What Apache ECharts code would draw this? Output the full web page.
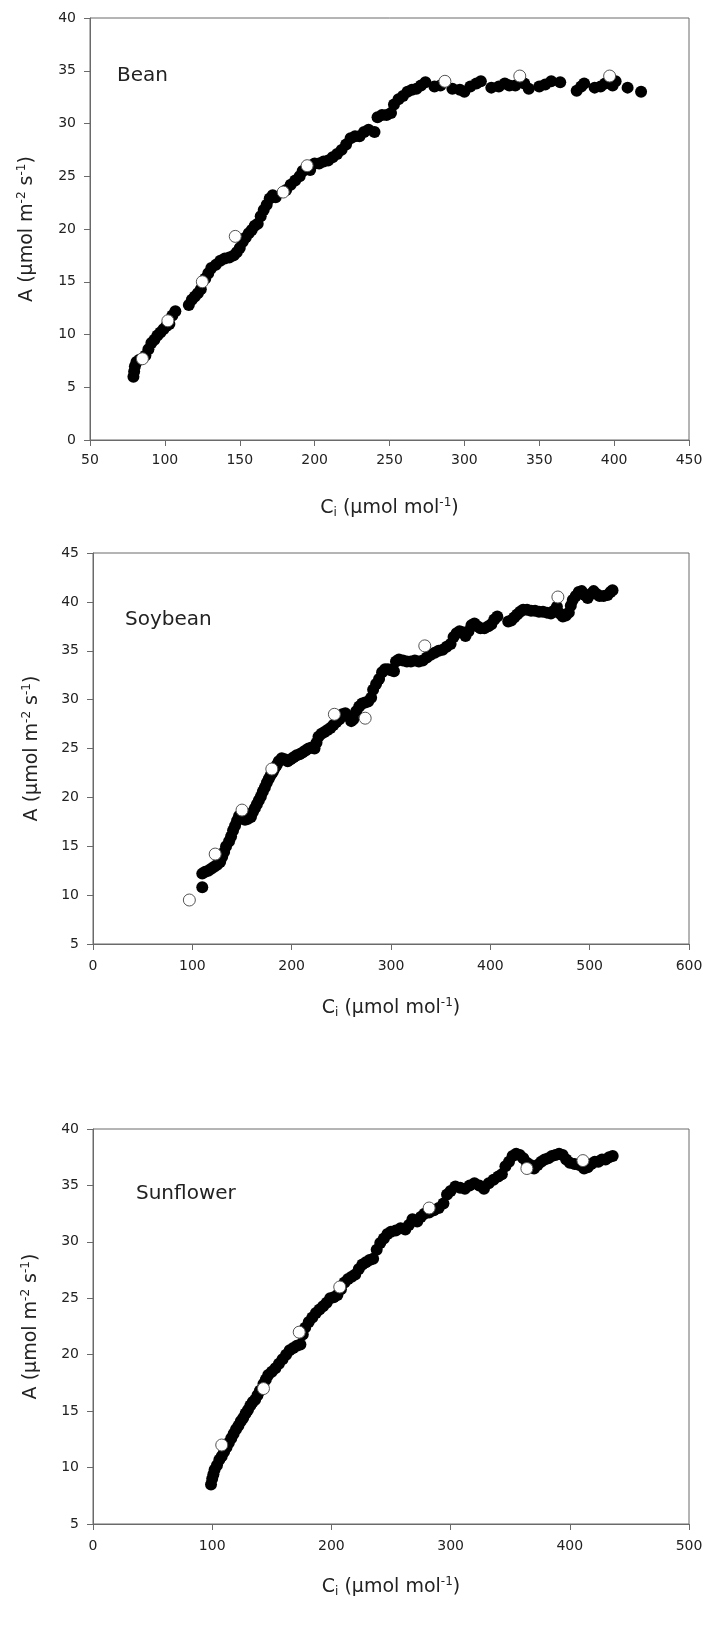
<!DOCTYPE html>
<html>
<head>
<meta charset="utf-8">
<script src="https://cdn.jsdelivr.net/npm/echarts@6/dist/echarts.min.js"></script>
<style>
  html, body { margin: 0; padding: 0; background: #fff; }
  #chart { width: 706px; height: 1635px; }
</style>
</head>
<body>
<div id="chart"></div>
<script>
// Bean: Ci vs A, filled = continuous record, open = steady-state points
var beanFilled = [
  [79,6.0],[79.5,6.5],[80,7.0],[81,7.4],[83,7.6],[87,8.0],[89,8.6],[91,9.2],[93,9.5],[95,9.9],
  [97,10.2],[99,10.5],[101,10.8],[103,11.0],[105,11.8],[107,12.2],[116,12.8],[118,13.3],[120,13.6],[122,13.9],
  [124,14.3],[127,15.3],[129,15.8],[131,16.3],[134,16.6],[137,17.0],[140,17.2],[143,17.3],[146,17.5],[148,17.8],
  [150,18.2],[152,18.8],[154,19.2],[156,19.6],[158,19.9],[160,20.3],[162,20.5],[164,21.2],[166,21.8],[168,22.3],
  [170,22.9],[172,23.2],[174,23.0],[181,23.7],[184,24.2],[187,24.6],[190,25.0],[192,25.5],[197,25.6],[200,26.2],
  [203,26.2],[206,26.4],[209,26.5],[212,26.8],[215,27.1],[218,27.5],[221,28.0],[224,28.6],[227,28.8],[230,28.8],
  [233,29.2],[236,29.4],[240,29.2],[242,30.6],[245,30.8],[248,30.8],[251,31.0],[253,31.8],[256,32.3],[259,32.6],
  [262,33.0],[265,33.2],[268,33.3],[271,33.6],[274,33.9],[280,33.5],[284,33.6],[292,33.3],[297,33.2],[300,33.0],
  [304,33.5],[308,33.8],[311,34.0],[318,33.4],[323,33.5],[327,33.8],[330,33.6],[334,33.6],[340,33.8],[343,33.3],
  [350,33.5],[354,33.7],[358,34.0],[364,33.9],[375,33.1],[378,33.5],[380,33.8],[387,33.4],[391,33.5],[394,33.8],
  [399,33.6],[401,34.0],[409,33.4],[418,33.0]
];
var beanOpen = [[85,7.7],[102,11.3],[125,15.0],[147,19.3],[179,23.5],[195,26.0],[287,34.0],[337,34.5],[397,34.5]];

var soyFilled = [
  [110,10.8],[110,12.2],[113,12.4],[116,12.5],[119,12.7],[122,12.9],[125,13.1],[128,13.4],[130,13.9],[132,14.4],
  [134,15.0],[137,15.5],[139,16.0],[141,16.6],[143,17.1],[145,17.6],[147,18.1],[150,18.0],[153,17.7],[156,17.8],
  [159,18.0],[161,18.5],[163,18.9],[165,19.3],[167,19.7],[169,20.1],[171,20.6],[173,21.0],[175,21.5],[177,21.9],
  [179,22.3],[181,22.6],[183,23.0],[185,23.3],[187,23.7],[190,24.0],[193,23.9],[196,23.7],[199,23.9],[202,24.1],
  [205,24.3],[208,24.4],[211,24.6],[214,24.8],[217,25.0],[220,25.1],[223,25.0],[225,25.6],[227,26.2],[230,26.5],
  [233,26.7],[236,26.9],[239,27.1],[242,27.4],[245,27.7],[248,28.0],[251,28.5],[254,28.6],[257,28.3],[260,27.8],
  [262,28.0],[265,28.8],[268,29.3],[271,29.6],[274,29.7],[277,29.8],[280,30.2],[282,31.0],[285,31.6],[288,32.1],
  [291,32.8],[294,33.1],[297,33.1],[300,33.0],[303,32.9],[305,33.9],[308,34.1],[312,34.0],[316,33.9],[320,33.9],
  [324,34.0],[328,33.9],[332,34.0],[336,34.3],[340,34.6],[344,34.8],[348,35.0],[352,35.1],[356,35.4],[360,35.7],
  [363,36.4],[366,36.8],[369,37.0],[372,36.9],[375,36.5],[378,37.0],[381,37.6],[384,37.8],[387,37.5],[390,37.3],
  [394,37.3],[398,37.5],[401,37.7],[404,38.2],[407,38.5],[418,38.0],[421,38.1],[424,38.4],[427,38.7],[430,39.0],
  [433,39.2],[437,39.2],[441,39.1],[445,39.1],[449,39.0],[453,39.0],[457,38.9],[461,38.8],[464,39.1],[467,39.5],
  [470,38.8],[473,38.5],[476,38.6],[479,38.9],[481,39.6],[483,40.2],[486,40.6],[489,41.0],[492,41.1],[495,40.7],
  [498,40.4],[501,40.8],[504,41.1],[507,40.8],[510,40.6],[514,40.6],[518,40.7],[521,41.0],[523,41.2]
];
var soyOpen = [[97,9.5],[123,14.2],[150,18.7],[180,22.9],[243,28.5],[274,28.1],[334,35.5],[468,40.5]];

var sunFilled = [
  [99,8.5],[100,9.0],[101,9.4],[102,9.8],[104,10.2],[106,10.7],[108,11.0],[110,11.4],[112,11.8],[114,12.2],
  [116,12.6],[118,13.0],[120,13.4],[122,13.7],[124,14.1],[126,14.4],[128,14.8],[130,15.1],[132,15.5],[134,15.8],
  [136,16.0],[138,16.4],[140,16.8],[143,17.4],[145,17.8],[147,18.2],[150,18.5],[153,18.8],[156,19.2],[159,19.6],
  [162,20.0],[165,20.4],[168,20.6],[171,20.8],[174,20.9],[176,21.8],[178,22.4],[181,22.9],[184,23.3],[187,23.7],
  [190,24.0],[193,24.3],[196,24.6],[199,25.0],[202,25.1],[205,25.3],[208,25.8],[211,26.4],[214,26.7],[217,26.9],
  [220,27.1],[223,27.6],[226,28.0],[229,28.2],[232,28.4],[235,28.5],[238,29.3],[241,29.9],[244,30.3],[247,30.7],
  [250,30.9],[254,31.0],[258,31.2],[262,31.1],[265,31.5],[268,32.0],[272,31.8],[275,32.2],[278,32.5],[282,32.6],
  [286,32.8],[290,33.0],[294,33.4],[297,34.2],[300,34.5],[304,34.9],[308,34.8],[312,34.7],[316,35.0],[320,35.2],
  [324,35.0],[328,34.7],[332,35.2],[336,35.5],[340,35.8],[343,36.0],[346,36.7],[349,37.1],[352,37.6],[355,37.8],
  [358,37.7],[361,37.4],[364,37.0],[367,36.8],[370,36.5],[373,36.8],[376,37.1],[379,37.3],[382,37.4],[385,37.6],
  [388,37.7],[391,37.8],[394,37.7],[397,37.3],[400,37.0],[404,36.9],[408,36.8],[412,36.5],[415,36.6],[418,36.9],
  [421,37.1],[424,37.1],[427,37.3],[430,37.3],[433,37.5],[436,37.6]
];
var sunOpen = [[108,12.0],[143,17.0],[173,22.0],[207,26.0],[282,33.0],[364,36.5],[411,37.2]];

var panelNames = ['Bean', 'Soybean', 'Sunflower'];

var fam = 'DejaVu Sans';
var txt = '#222';
var axCol = '#6a6a6a';

var titleRich = {
  n: { fontSize: 19, fontFamily: fam, color: txt },
  sup: { fontSize: 12, fontFamily: fam, color: txt, padding: [0, 0, 10, 0] },
  sub: { fontSize: 12, fontFamily: fam, color: txt, padding: [10, 0, 0, 0] }
};
var xTitle = '{n|C}{sub|i}{n| (µmol mol}{sup|-1}{n|)}';
var yTitle = '{n|A (µmol m}{sup|-2}{n| s}{sup|-1}{n|)}';

function xAxisCfg(i, min, max, step, labelMargin, gap) {
  return {
    type: 'value', gridIndex: i, min: min, max: max, interval: step,
    name: xTitle, nameLocation: 'middle', nameGap: gap,
    nameTextStyle: { rich: titleRich },
    axisLine: { show: true, lineStyle: { color: axCol } },
    axisTick: { show: true, length: 6, lineStyle: { color: axCol } },
    axisLabel: { margin: labelMargin, fontSize: 14, fontFamily: fam, color: txt, showMinLabel: true, showMaxLabel: true },
    splitLine: { show: false }
  };
}
function yAxisCfg(i, min, max, step, gap) {
  return {
    type: 'value', gridIndex: i, min: min, max: max, interval: step,
    name: yTitle, nameLocation: 'middle', nameGap: gap, nameRotate: 90,
    nameTextStyle: { rich: titleRich },
    axisLine: { show: true, lineStyle: { color: axCol } },
    axisTick: { show: true, length: 6, lineStyle: { color: axCol } },
    axisLabel: { margin: 14, fontSize: 14, fontFamily: fam, color: txt, showMinLabel: true, showMaxLabel: true },
    splitLine: { show: false }
  };
}
function filled(i, data) {
  return { type: 'scatter', xAxisIndex: i, yAxisIndex: i, data: data, symbol: 'circle', symbolSize: 12,
    itemStyle: { color: '#000', opacity: 1 }, z: 2 };
}
function open(i, data) {
  return { type: 'scatter', xAxisIndex: i, yAxisIndex: i, data: data, symbol: 'circle', symbolSize: 12,
    itemStyle: { color: '#fff', borderColor: '#555', borderWidth: 1, opacity: 1 }, z: 3 };
}

var chart = echarts.init(document.getElementById('chart'), null, { renderer: 'canvas' });

var option = {
  animation: false,
  backgroundColor: '#fff',
  grid: [
    { left: 90, top: 18, width: 599, height: 422, show: true, borderColor: axCol, borderWidth: 1 },
    { left: 93, top: 553, width: 596, height: 391, show: true, borderColor: axCol, borderWidth: 1 },
    { left: 93, top: 1129, width: 596, height: 395, show: true, borderColor: axCol, borderWidth: 1 }
  ],
  xAxis: [
    xAxisCfg(0, 50, 450, 50, 13, 57),
    xAxisCfg(1, 0, 600, 100, 15, 53),
    xAxisCfg(2, 0, 500, 100, 15, 52)
  ],
  yAxis: [
    yAxisCfg(0, 0, 40, 5, 52),
    yAxisCfg(1, 5, 45, 5, 50),
    yAxisCfg(2, 5, 40, 5, 51)
  ],
  graphic: [
    { type: 'text', left: 117, top: 66, style: { text: panelNames[0], font: '20px "DejaVu Sans"', fill: txt } },
    { type: 'text', left: 125, top: 610, style: { text: panelNames[1], font: '20px "DejaVu Sans"', fill: txt } },
    { type: 'text', left: 136, top: 1184, style: { text: panelNames[2], font: '20px "DejaVu Sans"', fill: txt } }
  ],
  series: [
    filled(0, beanFilled), open(0, beanOpen),
    filled(1, soyFilled), open(1, soyOpen),
    filled(2, sunFilled), open(2, sunOpen)
  ]
};

chart.setOption(option);
</script>
</body>
</html>
